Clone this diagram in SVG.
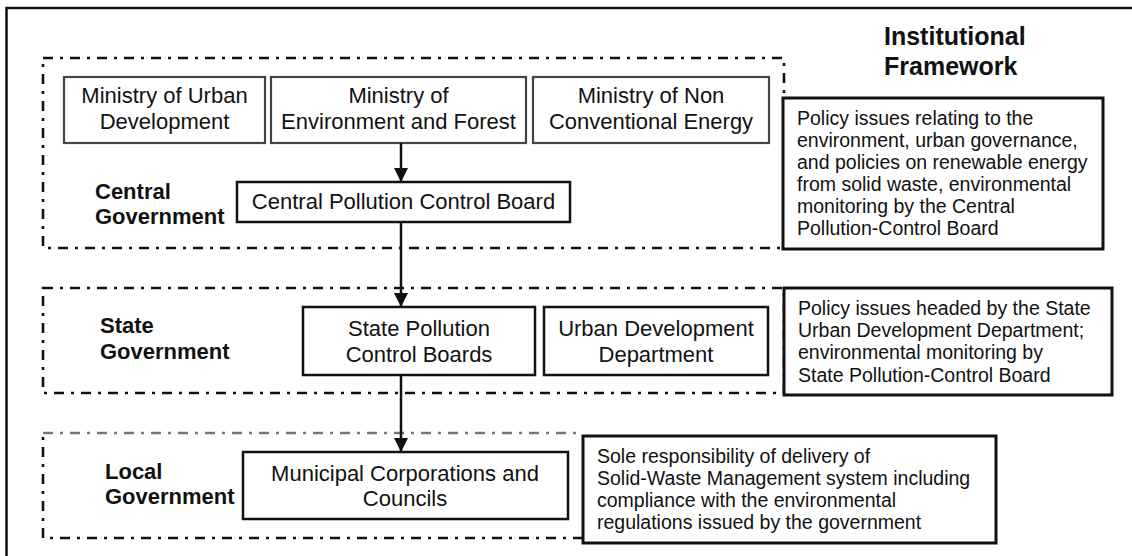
<svg xmlns="http://www.w3.org/2000/svg" width="1132" height="556" viewBox="0 0 1132 556">
<style>
.t{font-family:"Liberation Sans",Arial,sans-serif;font-size:22px;fill:#111}
.c{text-anchor:middle}
.b{font-weight:bold}
.p{font-family:"Liberation Sans",Arial,sans-serif;font-size:19.5px;fill:#111}
.h{font-family:"Liberation Sans",Arial,sans-serif;font-size:25px;font-weight:bold;fill:#111}
.dash{fill:none;stroke:#111;stroke-width:2.6;stroke-dasharray:10 7 3 7}
.mbox{fill:#fff;stroke:#444;stroke-width:2.2}
.box{fill:#fff;stroke:#111;stroke-width:2.5}
.pbox{fill:#fff;stroke:#111;stroke-width:3}
.conn{stroke:#111;stroke-width:2.5;fill:none}
</style>
<defs>
<marker id="ah" viewBox="0 0 14 15" refX="14" refY="7" markerWidth="14" markerHeight="15" markerUnits="userSpaceOnUse" orient="auto">
<path d="M0,0 L14,7 L0,14 z" fill="#111"/>
</marker>
</defs>
<rect width="1132" height="556" fill="#fff"/>
<path d="M6.5,556 L6.5,8 L1132,8" fill="none" stroke="#111" stroke-width="2.5"/>

<g id="title">
<text class="h" x="884" y="45">Institutional</text>
<text class="h" x="884" y="75">Framework</text>
</g>

<g id="level-central">
<rect class="dash" x="43" y="58" width="741" height="190"/>
<text class="t b" x="95" y="199">Central</text>
<text class="t b" x="95" y="224">Government</text>
</g>
<g id="level-state">
<rect class="dash" x="43" y="288" width="741" height="105"/>
<text class="t b" x="100" y="333">State</text>
<text class="t b" x="100" y="359">Government</text>
</g>
<g id="level-local">
<path class="dash" d="M583,538 L43,538 L43,433"/>
<path class="dash" style="stroke:#777" d="M43,433 L583,433"/>
<text class="t b" x="105" y="479">Local</text>
<text class="t b" x="105" y="504">Government</text>
</g>

<g id="mud">
<rect class="mbox" x="64" y="77" width="201" height="66"/>
<text class="t c" x="164.5" y="103">Ministry of Urban</text>
<text class="t c" x="164.5" y="129">Development</text>
</g>
<g id="mef">
<rect class="mbox" x="271" y="77" width="255" height="66"/>
<text class="t c" x="398.5" y="103">Ministry of</text>
<text class="t c" x="398.5" y="129">Environment and Forest</text>
</g>
<g id="mnce">
<rect class="mbox" x="533" y="77" width="236" height="66"/>
<text class="t c" x="651" y="103">Ministry of Non</text>
<text class="t c" x="651" y="129">Conventional Energy</text>
</g>
<g id="cpcb">
<rect class="box" x="237" y="182" width="333" height="40"/>
<text class="t c" x="403.5" y="209">Central Pollution Control Board</text>
</g>
<g id="spcb">
<rect class="box" x="303" y="307" width="232" height="68"/>
<text class="t c" x="419" y="336">State Pollution</text>
<text class="t c" x="419" y="362">Control Boards</text>
</g>
<g id="udd">
<rect class="box" x="544" y="307" width="224" height="68"/>
<text class="t c" x="656" y="336">Urban Development</text>
<text class="t c" x="656" y="362">Department</text>
</g>
<g id="municipal">
<rect class="box" x="243" y="452" width="325" height="67"/>
<text class="t c" x="405" y="481">Municipal Corporations and</text>
<text class="t c" x="405" y="506">Councils</text>
</g>

<g id="policy-central">
<rect class="pbox" x="783" y="98" width="320" height="151"/>
<text class="p" x="797" y="125">Policy issues relating to the</text>
<text class="p" x="797" y="147">environment, urban governance,</text>
<text class="p" x="797" y="169">and policies on renewable energy</text>
<text class="p" x="797" y="191">from solid waste, environmental</text>
<text class="p" x="797" y="213">monitoring by the Central</text>
<text class="p" x="797" y="235">Pollution-Control Board</text>
</g>
<g id="policy-state">
<rect class="pbox" x="784" y="288" width="328" height="107"/>
<text class="p" x="798" y="315">Policy issues headed by the State</text>
<text class="p" x="798" y="337">Urban Development Department;</text>
<text class="p" x="798" y="359">environmental monitoring by</text>
<text class="p" x="798" y="382">State Pollution-Control Board</text>
</g>
<g id="policy-local">
<rect class="pbox" x="583" y="436" width="413" height="107"/>
<text class="p" x="597" y="463">Sole responsibility of delivery of</text>
<text class="p" x="597" y="485">Solid-Waste Management system including</text>
<text class="p" x="597" y="507">compliance with the environmental</text>
<text class="p" x="597" y="529">regulations issued by the government</text>
</g>

<g id="connectors">
<line class="conn" x1="401" y1="143" x2="401" y2="182" marker-end="url(#ah)"/>
<line class="conn" x1="401" y1="222" x2="401" y2="307" marker-end="url(#ah)"/>
<line class="conn" x1="401" y1="375" x2="401" y2="452" marker-end="url(#ah)"/>
</g>
</svg>
